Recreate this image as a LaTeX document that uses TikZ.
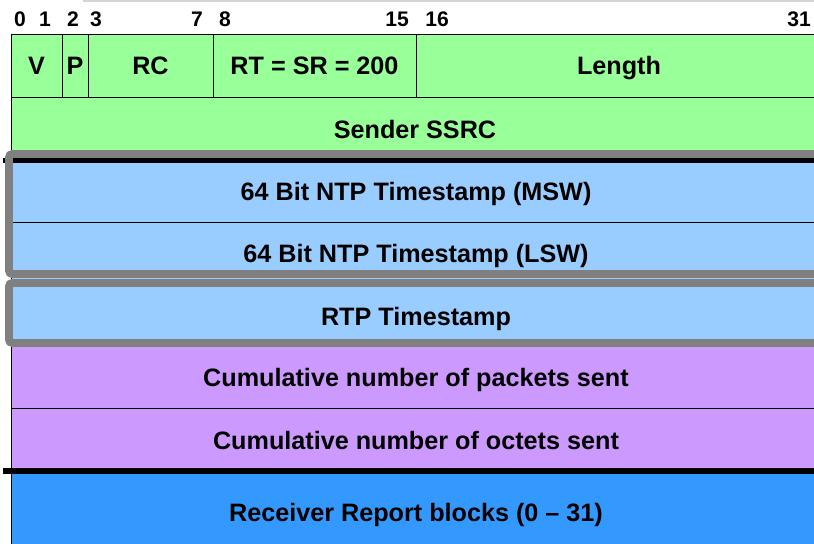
\documentclass[tikz,border=0pt]{standalone}
\usepackage{fontspec}
\setmainfont{Liberation Sans}
\usetikzlibrary{fit}

\definecolor{hdrgreen}{HTML}{99FF99}
\definecolor{ntpblue}{HTML}{99CCFF}
\definecolor{cntpurple}{HTML}{CC99FF}
\definecolor{rrblue}{HTML}{3399FF}
\definecolor{framegray}{HTML}{808080}
\definecolor{topgray}{HTML}{D4D4D4}

\begin{document}
\begin{tikzpicture}[
  x=0.03cm, y=-0.03cm,
  cell/.style={rectangle, draw=black, line width=0.7pt, inner sep=0pt},
  celltext/.style={inner sep=0pt, font=\fontsize{21.5}{25}\selectfont\bfseries, text height=15.4pt, text depth=0pt},
  bitnum/.style={anchor=base, inner sep=0pt, font=\fontsize{18}{22}\selectfont\bfseries},
  sepline/.style={line width=4.3pt, black},
  framebox/.style={rectangle, draw=framegray, line width=6.8pt, rounded corners=3pt, inner sep=0pt},
]
\useasboundingbox (0,0) rectangle (814,544);

% bit numbers
\node[bitnum] (b0) at (20,27) {0};
\node[bitnum] (b1) at (45,27) {1};
\node[bitnum] (b2) at (73,27) {2};
\node[bitnum] (b3) at (96,27) {3};
\node[bitnum] (b7) at (197,27) {7};
\node[bitnum] (b8) at (225,27) {8};
\node[bitnum] (b15) at (397,27) {15};
\node[bitnum] (b16) at (437,27) {16};
\node[bitnum] (b31) at (799,27) {31};

% header word
\node[cell, fill=hdrgreen, fit={(11,34) (62,97)}] (ver) {};
\node[cell, fill=hdrgreen, fit={(62,34) (88,97)}] (pad) {};
\node[cell, fill=hdrgreen, fit={(88,34) (213,97)}] (rc) {};
\node[cell, fill=hdrgreen, fit={(213,34) (416,97)}] (rt) {};
\node[cell, fill=hdrgreen, fit={(416,34) (822,97)}] (len) {};
\node[cell, fill=hdrgreen, fit={(11,97) (822,160)}] (ssrc) {};

% sender info
\node[cell, fill=ntpblue, fit={(11,160) (822,222)}] (msw) {};
\node[cell, fill=ntpblue, fit={(11,222) (822,284)}] (lsw) {};
\node[cell, fill=ntpblue, fit={(11,284) (822,346)}] (rtpts) {};
\node[cell, fill=cntpurple, fit={(11,346) (822,408)}] (pkts) {};
\node[cell, fill=cntpurple, fit={(11,408) (822,470)}] (octs) {};

% report blocks
\node[cell, fill=rrblue, fit={(11,470) (822,554)}] (rr) {};

% field names
\node[celltext] (verl) at (ver) {V};
\node[celltext] (padl) at (pad) {P};
\node[celltext] (rcl) at (rc) {RC};
\node[celltext] (rtl) at (rt) {RT = SR = 200};
\node[celltext] (lenl) at (len.center -| 619,0) {Length};
\node[celltext] (ssrcl) at (415,129) {Sender SSRC};
\node[celltext] (mswl) at (416,191) {64 Bit NTP Timestamp (MSW)};
\node[celltext] (lswl) at (416,253) {64 Bit NTP Timestamp (LSW)};
\node[celltext] (rtptsl) at (416,316) {RTP Timestamp};
\node[celltext] (pktsl) at (416,377) {Cumulative number of packets sent};
\node[celltext] (octsl) at (416,440) {Cumulative number of octets sent};
\node[celltext] (rrl0) at (416,512) {Receiver Report blocks (0 -- 31)};

\coordinate (topl) at (83,1);
\coordinate (topr) at (814,1);
\coordinate (ntpl) at (3,160.5);
\coordinate (ntpr) at (822,160.5);
\coordinate (rrl) at (3,471);
\coordinate (rrr) at (822,471);

\draw[topgray, line width=1.5pt] (topl) -- (topr);
\draw[sepline] (ntpl) -- (ntpr);
\draw[sepline] (rrl) -- (rrr);

% highlight frames
\node[framebox, fit={(9,154) (830,274)}] (ntpframe) {};
\node[framebox, fit={(9,283) (830,343)}] (rtpframe) {};
\end{tikzpicture}
\end{document}
